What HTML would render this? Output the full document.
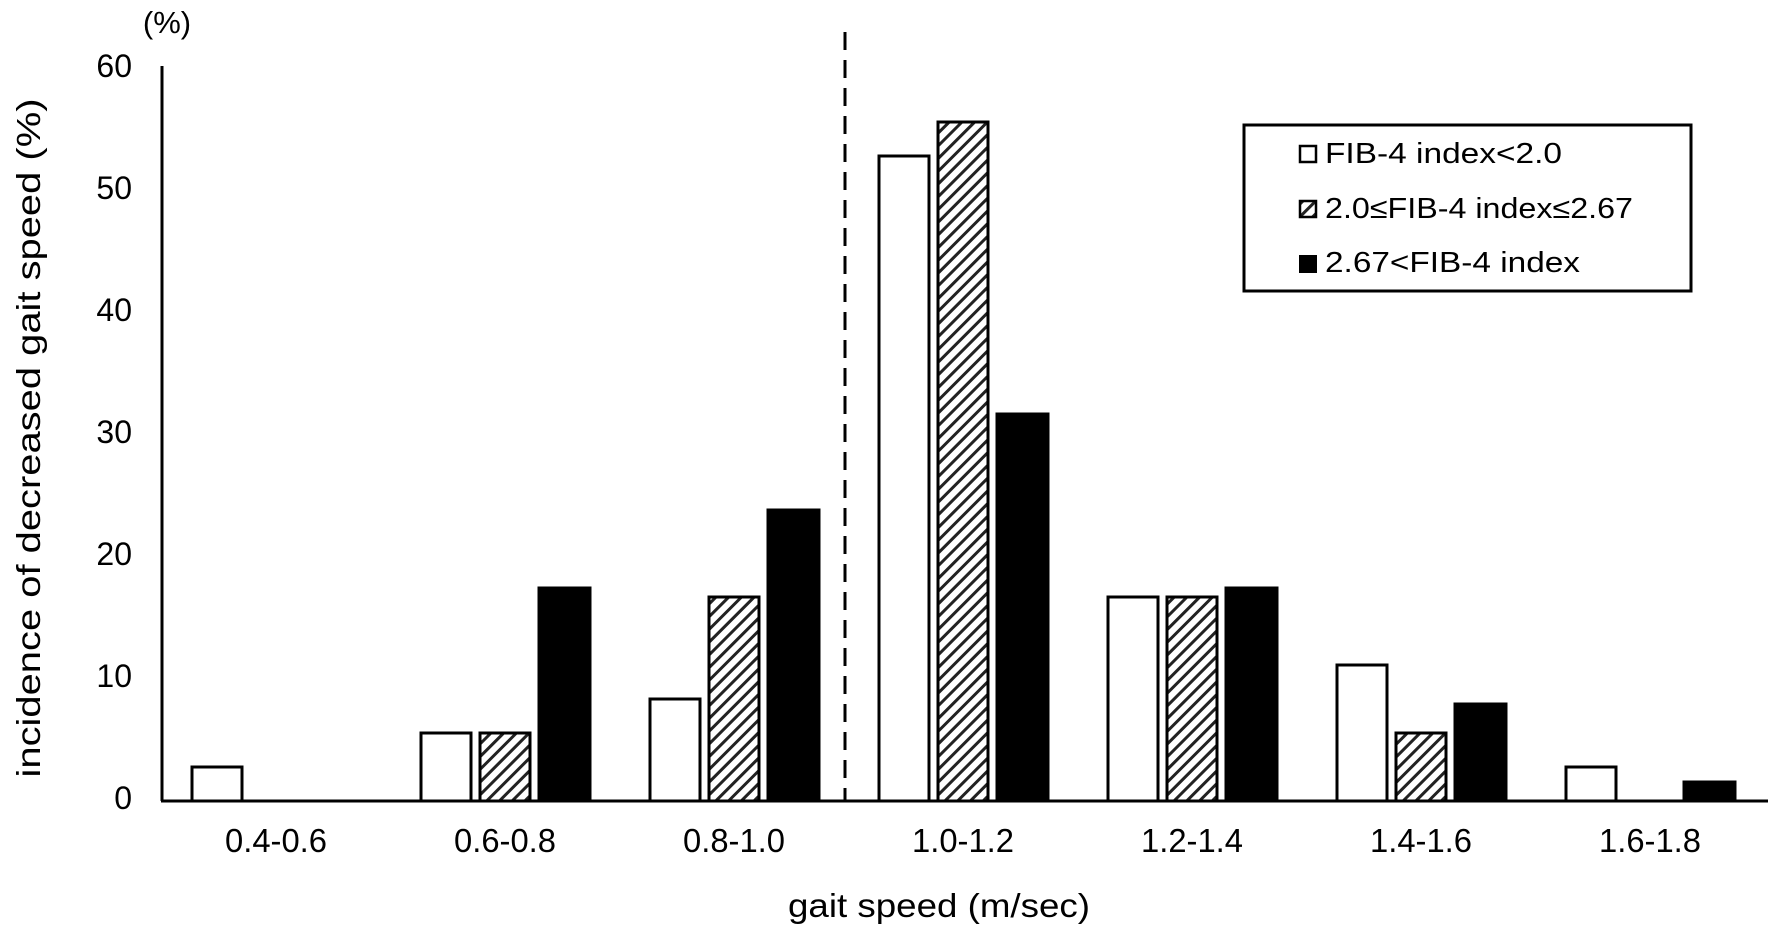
<!DOCTYPE html>
<html><head><style>body{margin:0;background:#fff}svg{display:block}</style></head>
<body>
<svg width="1770" height="933" xmlns="http://www.w3.org/2000/svg" font-family="Liberation Sans, Arial, sans-serif">
<defs>
<pattern id="h" patternUnits="userSpaceOnUse" width="9" height="9" patternTransform="rotate(45)">
<rect width="9" height="9" fill="#fff"/><rect x="0" y="0" width="3" height="9" fill="#222"/>
</pattern>
</defs>
<rect width="1770" height="933" fill="#fff"/>
<text x="167" y="33" font-size="31" text-anchor="middle">(%)</text>
<g font-size="32" text-anchor="end">
<text x="132" y="77">60</text>
<text x="132" y="199">50</text>
<text x="132" y="321">40</text>
<text x="132" y="443">30</text>
<text x="132" y="565">20</text>
<text x="132" y="687">10</text>
<text x="132" y="809">0</text>
</g>
<text transform="translate(40,438) rotate(-90)" font-size="33" text-anchor="middle" textLength="679" lengthAdjust="spacingAndGlyphs">incidence of decreased gait speed (%)</text>
<line x1="845" y1="32" x2="845" y2="800" stroke="#000" stroke-width="3" stroke-dasharray="18,10"/>
<g stroke="#000" stroke-width="3">
<rect x="192" y="767" width="50" height="34" fill="#fff"/>
<rect x="421" y="733" width="50" height="68" fill="#fff"/>
<rect x="480" y="733" width="50" height="68" fill="url(#h)"/>
<rect x="539" y="588" width="51" height="213" fill="#000"/>
<rect x="650" y="699" width="50" height="102" fill="#fff"/>
<rect x="709" y="597" width="50" height="204" fill="url(#h)"/>
<rect x="768" y="510" width="51" height="291" fill="#000"/>
<rect x="879" y="156" width="50" height="645" fill="#fff"/>
<rect x="938" y="122" width="50" height="679" fill="url(#h)"/>
<rect x="997" y="414" width="51" height="387" fill="#000"/>
<rect x="1108" y="597" width="50" height="204" fill="#fff"/>
<rect x="1167" y="597" width="50" height="204" fill="url(#h)"/>
<rect x="1226" y="588" width="51" height="213" fill="#000"/>
<rect x="1337" y="665" width="50" height="136" fill="#fff"/>
<rect x="1396" y="733" width="50" height="68" fill="url(#h)"/>
<rect x="1455" y="704" width="51" height="97" fill="#000"/>
<rect x="1566" y="767" width="50" height="34" fill="#fff"/>
<rect x="1684" y="782" width="51" height="19" fill="#000"/>
</g>
<line x1="162" y1="66" x2="162" y2="801" stroke="#000" stroke-width="3"/>
<line x1="161" y1="801" x2="1768" y2="801" stroke="#000" stroke-width="3"/>
<g font-size="33" text-anchor="middle">
<text x="276" y="852" textLength="102" lengthAdjust="spacingAndGlyphs">0.4-0.6</text>
<text x="505" y="852" textLength="102" lengthAdjust="spacingAndGlyphs">0.6-0.8</text>
<text x="734" y="852" textLength="102" lengthAdjust="spacingAndGlyphs">0.8-1.0</text>
<text x="963" y="852" textLength="102" lengthAdjust="spacingAndGlyphs">1.0-1.2</text>
<text x="1192" y="852" textLength="102" lengthAdjust="spacingAndGlyphs">1.2-1.4</text>
<text x="1421" y="852" textLength="102" lengthAdjust="spacingAndGlyphs">1.4-1.6</text>
<text x="1650" y="852" textLength="102" lengthAdjust="spacingAndGlyphs">1.6-1.8</text>
</g>
<text x="939" y="917" font-size="33" text-anchor="middle" textLength="302" lengthAdjust="spacingAndGlyphs">gait speed (m/sec)</text>
<rect x="1244" y="125" width="447" height="166" fill="#fff" stroke="#000" stroke-width="3"/>
<rect x="1300" y="146" width="16" height="16" fill="#fff" stroke="#000" stroke-width="2.5"/>
<rect x="1300" y="201" width="16" height="16" fill="url(#h)" stroke="#000" stroke-width="2.5"/>
<rect x="1299" y="255" width="18" height="18" fill="#000"/>
<g font-size="29">
<text x="1325" y="163" textLength="237" lengthAdjust="spacingAndGlyphs">FIB-4 index&lt;2.0</text>
<text x="1325" y="218" textLength="308" lengthAdjust="spacingAndGlyphs">2.0≤FIB-4 index≤2.67</text>
<text x="1325" y="272" textLength="255" lengthAdjust="spacingAndGlyphs">2.67&lt;FIB-4 index</text>
</g>
</svg>
</body></html>
